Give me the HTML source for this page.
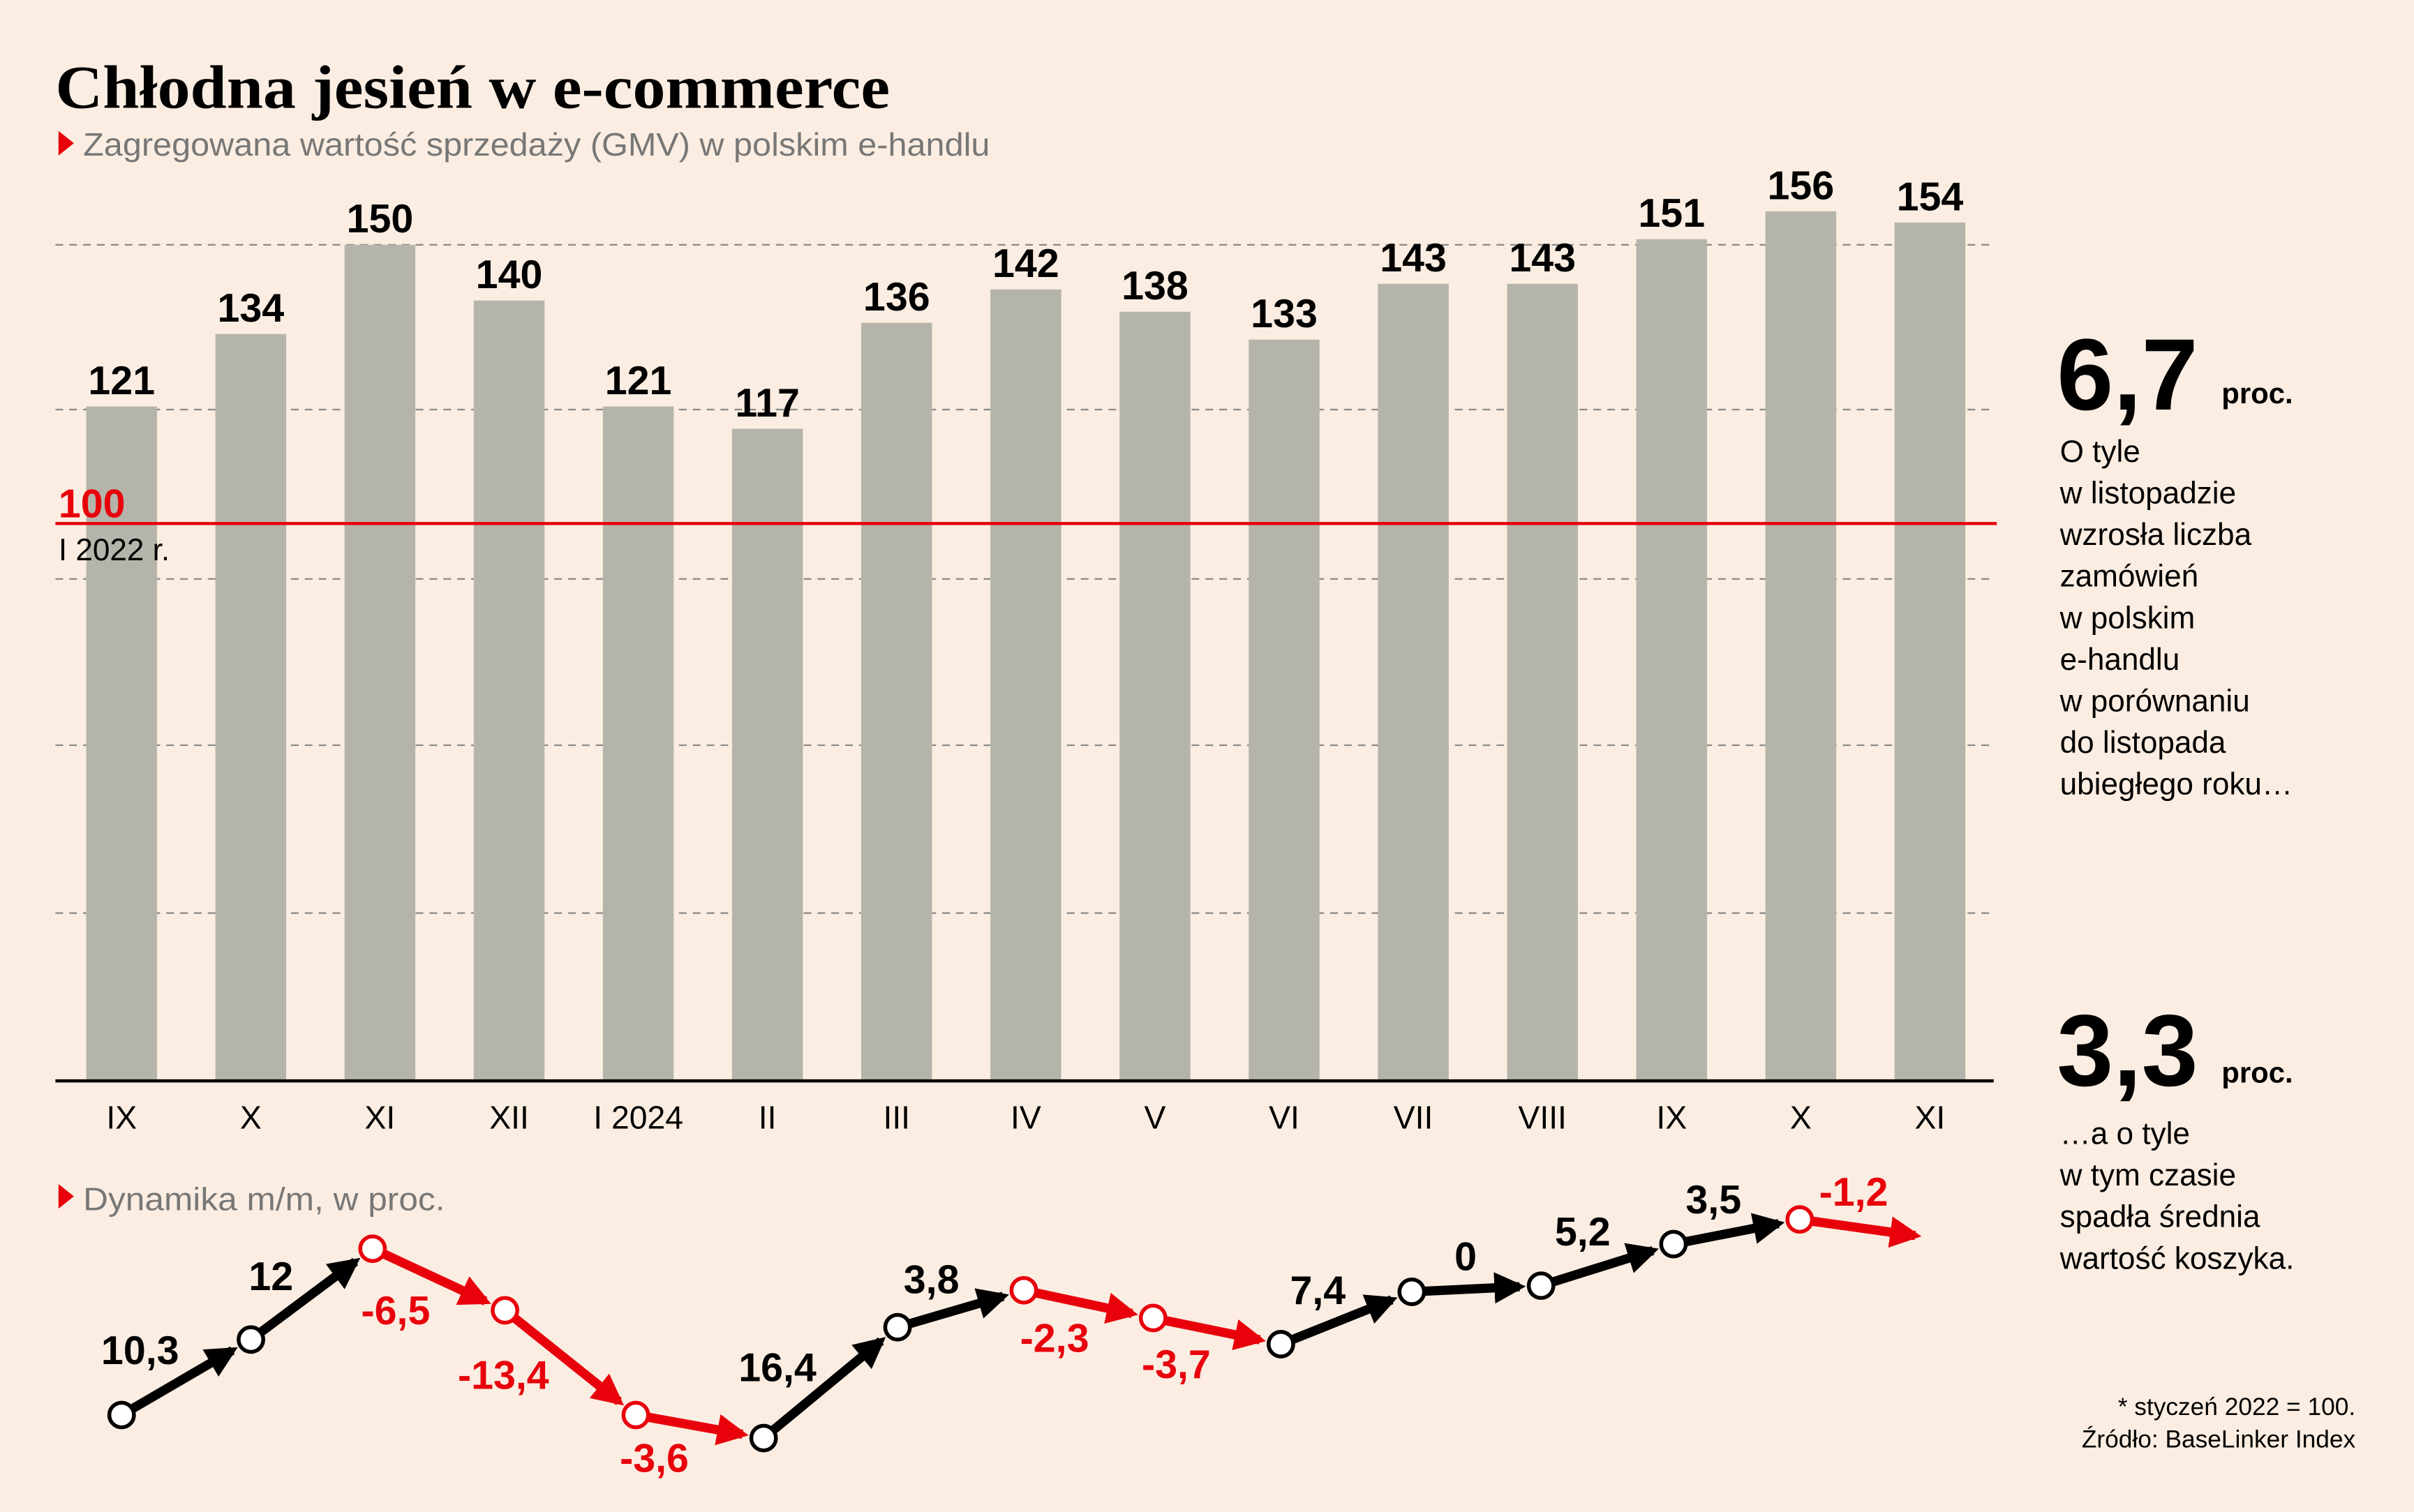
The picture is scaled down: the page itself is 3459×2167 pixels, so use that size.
<!DOCTYPE html>
<html><head><meta charset="utf-8"><style>
html,body{margin:0;padding:0;background:#fbede1;}
svg{display:block}
text{font-family:"Liberation Sans",sans-serif}
</style></head><body>
<svg width="3459" height="2167" viewBox="0 0 1568 982" preserveAspectRatio="none" xmlns="http://www.w3.org/2000/svg">
<defs>
<marker id="ab" viewBox="0 0 10 10" refX="8" refY="5" markerWidth="3.4" markerHeight="3.4" orient="auto" markerUnits="strokeWidth"><path d="M0,0 L10,5 L0,10 z" fill="#000"/></marker>
<marker id="ar" viewBox="0 0 10 10" refX="8" refY="5" markerWidth="3.4" markerHeight="3.4" orient="auto" markerUnits="strokeWidth"><path d="M0,0 L10,5 L0,10 z" fill="#e8000b"/></marker>
</defs>
<rect width="1568" height="982" fill="#fbede1"/>
<text x="36" y="70" font-weight="bold" font-size="40" textLength="542" lengthAdjust="spacingAndGlyphs" style="font-family:'Liberation Serif',serif">Chłodna jesień w e-commerce</text>
<path d="M38,85 L48,93 L38,101z" fill="#e8000b"/>
<text x="54" y="101" font-size="21" fill="#777" textLength="589" lengthAdjust="spacingAndGlyphs">Zagregowana wartość sprzedaży (GMV) w polskim e-handlu</text>
<g stroke="#888" stroke-dasharray="5,4" stroke-width="1">
<line x1="36" x2="1295" y1="159" y2="159"/><line x1="36" x2="1295" y1="266" y2="266"/><line x1="36" x2="1295" y1="376" y2="376"/><line x1="36" x2="1295" y1="484" y2="484"/><line x1="36" x2="1295" y1="593" y2="593"/>
</g>
<g fill="#b5b4aa" id="bars"></g>
<g id="bl" font-size="26" font-weight="bold" text-anchor="middle"></g>
<g id="xl" font-size="21" text-anchor="middle"></g>
<line x1="36" x2="1295" y1="702" y2="702" stroke="#000" stroke-width="2"/>
<line x1="36" x2="1297" y1="340" y2="340" stroke="#e8000b" stroke-width="2"/>
<text x="38" y="336" font-size="26" font-weight="bold" fill="#e8000b">100</text>
<text x="38" y="364" font-size="20">I 2022 r.</text>
<path d="M38,769 L48,777 L38,785z" fill="#e8000b"/>
<text x="54" y="786" font-size="21" fill="#777" textLength="235" lengthAdjust="spacingAndGlyphs">Dynamika m/m, w proc.</text>
<g id="ln"></g>
<g font-size="26" font-weight="bold" text-anchor="middle">
<text x="91" y="886">10,3</text><text x="176" y="838">12</text><text x="257" y="860" fill="#e8000b">-6,5</text>
<text x="327" y="902" fill="#e8000b">-13,4</text><text x="425" y="956" fill="#e8000b">-3,6</text><text x="505" y="897">16,4</text>
<text x="605" y="840">3,8</text><text x="685" y="878" fill="#e8000b">-2,3</text><text x="764" y="895" fill="#e8000b">-3,7</text>
<text x="856" y="847">7,4</text><text x="952" y="825">0</text><text x="1028" y="809">5,2</text><text x="1113" y="788">3,5</text>
<text x="1204" y="783" fill="#e8000b">-1,2</text>
</g>
<text x="1336" y="266" font-size="66" font-weight="bold">6,7</text>
<text x="1443" y="262" font-size="19" font-weight="bold">proc.</text>
<g font-size="20"><text x="1338" y="300">O tyle</text><text x="1338" y="327">w listopadzie</text><text x="1338" y="354">wzrosła liczba</text><text x="1338" y="381">zamówień</text><text x="1338" y="408">w polskim</text><text x="1338" y="435">e-handlu</text><text x="1338" y="462">w porównaniu</text><text x="1338" y="489">do listopada</text><text x="1338" y="516">ubiegłego roku…</text></g>
<text x="1336" y="705" font-size="66" font-weight="bold">3,3</text>
<text x="1443" y="703" font-size="19" font-weight="bold">proc.</text>
<g font-size="20"><text x="1338" y="743">…a o tyle</text><text x="1338" y="770">w tym czasie</text><text x="1338" y="797">spadła średnia</text><text x="1338" y="824">wartość koszyka.</text></g>
<g font-size="16" text-anchor="end"><text x="1530" y="919">* styczeń 2022 = 100.</text><text x="1530" y="940">Źródło: BaseLinker Index</text></g>
</svg>
<script>
(function(){
var NS="http://www.w3.org/2000/svg";
function el(p,t,a,txt){var e=document.createElementNS(NS,t);for(var k in a)e.setAttribute(k,a[k]);if(txt!=null)e.textContent=txt;document.getElementById(p).appendChild(e);return e;}
var v=[121,134,150,140,121,117,136,142,138,133,143,143,151,156,154];
var m=["IX","X","XI","XII","I 2024","II","III","IV","V","VI","VII","VIII","IX","X","XI"];
for(var i=0;i<15;i++){var cx=79+i*83.9,ty=702-v[i]*3.62;
el("bars","rect",{x:cx-23,y:ty,width:46,height:702-ty});
el("bl","text",{x:cx,y:ty-8},v[i]);
el("xl","text",{x:cx,y:733},m[i]);}
var P=[[79,919],[163,870],[242,811],[328,851],[413,919],[496,934],[583,862],[665,838],[749,856],[832,873],[917,839],[1001,835],[1087,808],[1169,792],[1248,803]];
var val=[10.3,12,-6.5,-13.4,-3.6,16.4,3.8,-2.3,-3.7,7.4,0,5.2,3.5,-1.2];
for(var i=0;i<14;i++){var a=P[i],b=P[i+1],dx=b[0]-a[0],dy=b[1]-a[1],L=Math.hypot(dx,dy),s=i==13?0:10;
var red=val[i]<0;
el("ln","line",{x1:a[0],y1:a[1],x2:b[0]-dx/L*(s+4),y2:b[1]-dy/L*(s+4),stroke:red?"#e8000b":"#000","stroke-width":6,"marker-end":red?"url(#ar)":"url(#ab)"});}
for(var i=0;i<14;i++){el("ln","circle",{cx:P[i][0],cy:P[i][1],r:8,fill:"#fff",stroke:val[i]<0?"#e8000b":"#000","stroke-width":2.5});}
})();
</script>
</body></html>
